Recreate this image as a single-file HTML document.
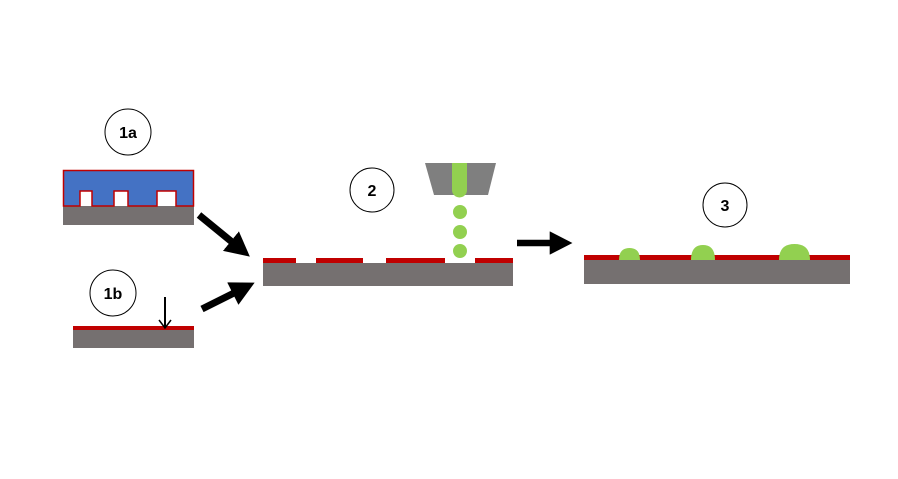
<!DOCTYPE html>
<html><head><style>html,body{margin:0;padding:0;background:#fff;}svg{display:block}</style></head>
<body>
<svg width="898" height="479" viewBox="0 0 898 479" xmlns="http://www.w3.org/2000/svg" font-family="Liberation Sans, sans-serif">
<defs>
<marker id="ah" markerWidth="3.5" markerHeight="3.6" refX="0.2" refY="1.8" orient="auto" markerUnits="strokeWidth">
<path d="M0,0 L3.5,1.8 L0,3.6 Z" fill="#000"/>
</marker>
</defs>
<!-- 1a -->
<circle cx="128" cy="132" r="23" fill="#fff" stroke="#000" stroke-width="1"/>
<text x="128" y="138" text-anchor="middle" font-size="16" font-weight="bold">1a</text>
<rect x="63" y="206" width="131" height="19" fill="#757070"/>
<path d="M63.5,206 L63.5,170.5 L193.5,170.5 L193.5,206 L176,206 L176,191 L157,191 L157,206 L128,206 L128,191 L114,191 L114,206 L92,206 L92,191 L80,191 L80,206 Z" fill="#4472c4" stroke="#c00000" stroke-width="1.5"/>
<!-- 1b -->
<circle cx="113" cy="293" r="23" fill="#fff" stroke="#000" stroke-width="1"/>
<text x="113" y="299" text-anchor="middle" font-size="16" font-weight="bold">1b</text>
<rect x="73" y="330" width="121" height="18" fill="#757070"/>
<rect x="73" y="326" width="121" height="4" fill="#c00000"/>
<line x1="165" y1="297" x2="165" y2="327" stroke="#000" stroke-width="2"/>
<path d="M159,320 L165,328 L171,320" fill="none" stroke="#000" stroke-width="1.5"/>
<!-- arrows -->
<line x1="199" y1="215" x2="232" y2="242" stroke="#000" stroke-width="7" marker-end="url(#ah)"/>
<line x1="202" y1="309" x2="234" y2="293" stroke="#000" stroke-width="7" marker-end="url(#ah)"/>
<line x1="517" y1="243" x2="551" y2="243" stroke="#000" stroke-width="6.5" marker-end="url(#ah)"/>
<!-- 2 -->
<circle cx="372" cy="190" r="22" fill="#fff" stroke="#000" stroke-width="1"/>
<text x="372" y="196" text-anchor="middle" font-size="16" font-weight="bold">2</text>
<rect x="263" y="263" width="250" height="23" fill="#757070"/>
<rect x="263" y="258" width="33" height="5" fill="#c00000"/>
<rect x="316" y="258" width="47" height="5" fill="#c00000"/>
<rect x="386" y="258" width="59" height="5" fill="#c00000"/>
<rect x="475" y="258" width="38" height="5" fill="#c00000"/>
<polygon points="425,163 496,163 488,195 434,195" fill="#7f7f7f"/>
<path d="M452,163 L467,163 L467,190 A7.5,7.5 0 0 1 452,190 Z" fill="#92d050"/>
<circle cx="460" cy="212" r="7" fill="#92d050"/>
<circle cx="460" cy="232" r="7" fill="#92d050"/>
<circle cx="460" cy="251" r="7" fill="#92d050"/>
<!-- 3 -->
<circle cx="725" cy="205" r="22" fill="#fff" stroke="#000" stroke-width="1"/>
<text x="725" y="211" text-anchor="middle" font-size="16" font-weight="bold">3</text>
<rect x="584" y="260" width="266" height="24" fill="#757070"/>
<rect x="584" y="255" width="266" height="5" fill="#c00000"/>
<path d="M619,260 Q619,248 629.5,248 Q640,248 640,260 Z" fill="#92d050"/>
<path d="M691,260 Q691,245 703,245 Q715,245 715,260 Z" fill="#92d050"/>
<path d="M779,260 Q779,244 794.5,244 Q810,244 810,260 Z" fill="#92d050"/>
</svg>
</body></html>
